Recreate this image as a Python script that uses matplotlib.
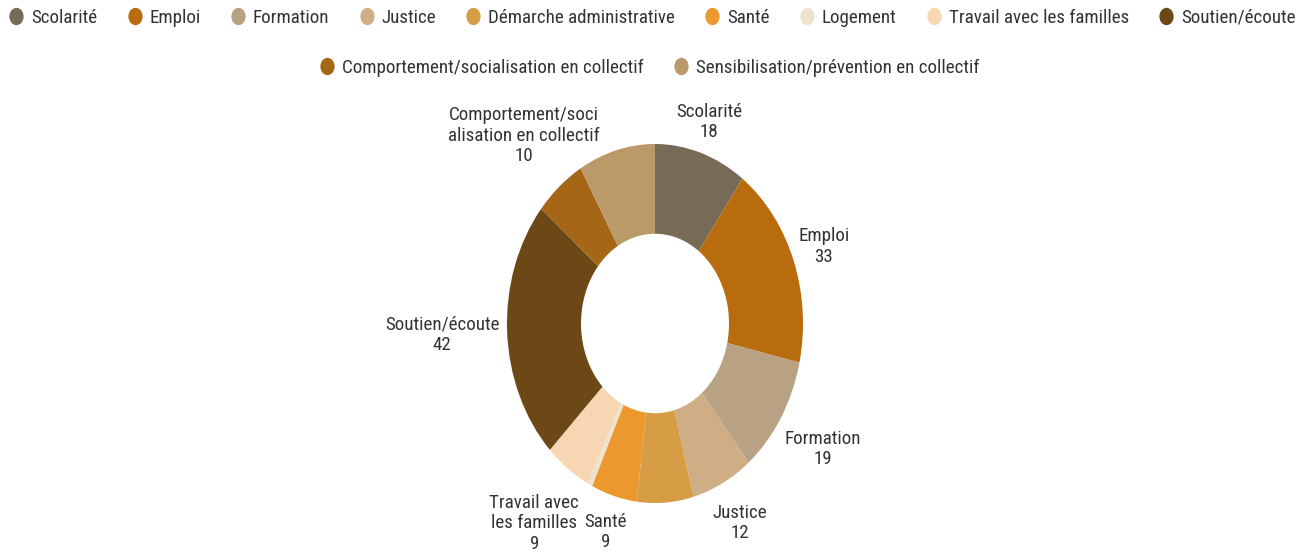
import numpy as np
import matplotlib.pyplot as plt
from matplotlib.lines import Line2D
from matplotlib.path import Path
from matplotlib.transforms import Affine2D

plt.rcParams['font.family'] = ['Roboto Condensed', 'Open Sans', 'DejaVu Sans']

categories = ['Scolarité', 'Emploi', 'Formation', 'Justice', 'Démarche administrative',
              'Santé', 'Logement', 'Travail avec les familles', 'Soutien/écoute',
              'Comportement/socialisation en collectif',
              'Sensibilisation/prévention en collectif']
values = [18, 33, 19, 12, 11, 9, 1, 9, 42, 10, 15]
colors = ['#776a57', '#b86c0d', '#b9a284', '#cfae86', '#d69d45', '#eb982f',
          '#efe2cd', '#f7d6b3', '#6b4816', '#a56616', '#bb9a69']
# slice labels as shown on the chart (None = not displayed)
slice_names = ['Scolarité', 'Emploi', 'Formation', 'Justice', None, 'Santé', None,
               'Travail avec\nles familles', 'Soutien/écoute',
               'Comportement/soci\nalisation en collectif', None]
# distance of each label from the centre (layout only)
label_r = [1.18, 1.22, 1.33, 1.25, 0, 1.21, 0, 1.38, 1.44, 1.37, 0]

txt = '#333333'
fs = 13.7
fig = plt.figure(figsize=(13.1, 5.55), dpi=100)
W, H = 1310, 555
cx, cy, rx, ry = 655, 323.5, 148, 179.5
lim = 1.3
ax = fig.add_axes([(cx - lim * rx) / W, (H - cy - lim * ry) / H, 2 * lim * rx / W, 2 * lim * ry / H])

ax.pie(values, colors=colors, startangle=90, counterclock=False, radius=1,
       wedgeprops=dict(width=0.5, linewidth=0))
ax.set_aspect('auto')
ax.set_xlim(-lim, lim)
ax.set_ylim(-lim, lim)
ax.axis('off')

total = sum(values)
cum = np.cumsum(values)
for i, name in enumerate(slice_names):
    if name is None:
        continue
    a = np.deg2rad((cum[i] - values[i] / 2) / total * 360)
    r = label_r[i]
    ax.text(r * np.sin(a), r * np.cos(a), f'{name}\n{values[i]}', ha='center', va='center',
            fontsize=fs, color=txt, linespacing=1.18, clip_on=False)

ell = Path.unit_circle().transformed(Affine2D().scale(0.82, 1))

def handles(idx):
    return [Line2D([], [], linestyle='none', marker=ell, markersize=12.5,
                   markerfacecolor=colors[i], markeredgewidth=0) for i in idx]

row1 = list(range(9))
row2 = [9, 10]
kw = dict(frameon=False, fontsize=fs, handletextpad=0.42, columnspacing=1.58,
          handlelength=0.74, borderaxespad=0, borderpad=0, labelcolor=txt)
fig.legend(handles(row1), [categories[i] for i in row1], loc='center',
           bbox_to_anchor=(652.5 / W, 1 - 18 / H), ncol=9, **kw)
fig.legend(handles(row2), [categories[i] for i in row2], loc='center',
           bbox_to_anchor=(650 / W, 1 - 68 / H), ncol=2, **kw)

fig.savefig('out.png', dpi=100)
